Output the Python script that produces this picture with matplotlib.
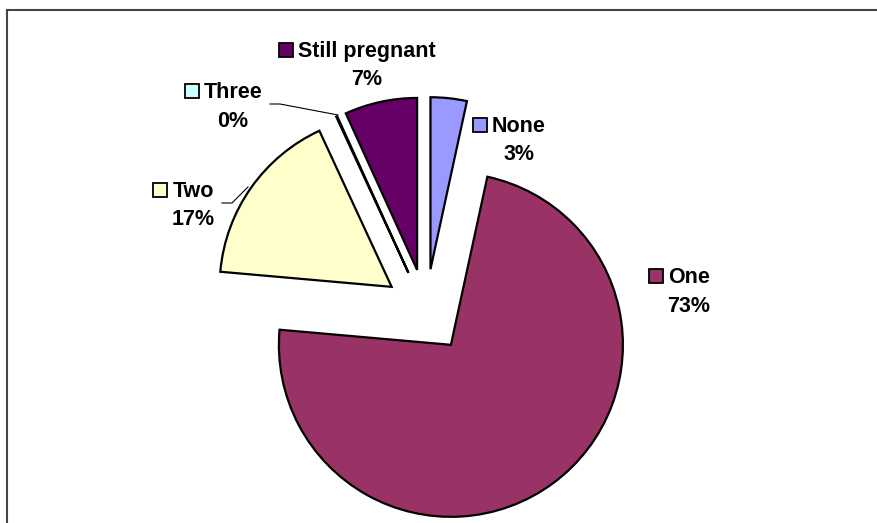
import matplotlib.pyplot as plt
from matplotlib.patches import Rectangle

plt.rcParams['font.family'] = ['Liberation Sans', 'DejaVu Sans']

# share of respondents by number of children
categories = ['None', 'One', 'Two', 'Three', 'Still pregnant']
shares = [3.4, 73.0, 16.7, 0.1, 6.8]
colors = ['#9999FF', '#993366', '#FFFFCC', '#CCFFFF', '#660066']

W, H = 877, 523
fig = plt.figure(figsize=(W / 100, H / 100), dpi=100)
ax = fig.add_axes([0, 0, 1, 1])

# y axis runs downwards, so start at -90 and go "counterclockwise" to get
# a clockwise pie starting at 12 o'clock
wedges, _ = ax.pie(shares, colors=colors, startangle=-90, counterclock=True,
                   center=(426, 311), radius=172, explode=[42] * len(shares),
                   wedgeprops=dict(edgecolor='black', linewidth=1.6))
ax.set_xlim(0, W)
ax.set_ylim(H, 0)
ax.set_aspect('equal')
ax.set_axis_off()

# chart area border (clipped by the image on the right and bottom)
ax.plot([7, 7], [H + 5, 10], color='#444444', lw=1.5, clip_on=False)
ax.plot([7, W + 5], [10, 10], color='#444444', lw=1.5, clip_on=False)

# label anchors: centre x of the name, baseline of name and of the percentage
label_pos = {
    'None': (519, 132, 160),
    'One': (689, 283, 312),
    'Two': (193, 197, 225),
    'Three': (233, 98, 127),
    'Still pregnant': (367, 57, 85),
}

names = []
for cat, val, col in zip(categories, shares, colors):
    cx, yb1, yb2 = label_pos[cat]
    t = ax.text(cx, yb1, cat, ha='center', va='baseline', fontsize=15.5,
                fontweight='bold', color='black')
    ax.text(cx, yb2, f'{val:.0f}%', ha='center', va='baseline', fontsize=15.5,
            fontweight='bold', color='black')
    names.append((t, col, yb1))

# leader lines for the small slices
ax.plot([270, 280, 338], [104, 104, 115], color='black', lw=0.8)
ax.plot([222, 232, 248], [203, 203, 187], color='black', lw=0.8)

# legend-key squares in front of each name
fig.canvas.draw()
renderer = fig.canvas.get_renderer()
inv = ax.transData.inverted()
for t, col, yb in names:
    bb = t.get_window_extent(renderer)
    x0, _ = inv.transform((bb.x0, bb.y0))
    size = 14
    ax.add_patch(Rectangle((x0 - 5 - size, yb - 14.5), size, size,
                           facecolor=col, edgecolor='black', lw=1.3))

fig.savefig('out.png', dpi=100)
